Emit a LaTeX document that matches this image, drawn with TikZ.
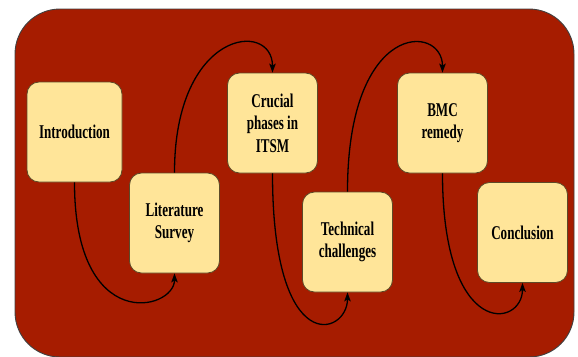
\documentclass[tikz,border=0pt]{standalone}
\usepackage{fontspec}
\newfontfamily\boxfont[FakeStretch=0.67]{Liberation Serif}
\usetikzlibrary{arrows.meta}
\definecolor{bgred}{HTML}{A61C00}
\definecolor{boxfill}{HTML}{FFE599}
\definecolor{boxline}{HTML}{5C4A28}

\begin{document}
\begin{tikzpicture}[x=1pt,y=-1pt,
  stepbox/.style={draw=boxline, line width=0.8pt, fill=boxfill,
    rounded corners=12pt, minimum width=90pt, minimum height=100pt,
    align=center, inner sep=2pt,
    font={\boxfont\bfseries\fontsize{19.5}{22.5}\selectfont}},
  flow/.style={draw=black, line width=1.3pt,
    -{Stealth[length=9pt,width=6.5pt,inset=2pt]}}]
\useasboundingbox (0,0) rectangle (578,356);
\clip (0,0) rectangle (578,356);

% panel
\draw[fill=bgred, draw=black!75, line width=0.9pt, rounded corners=45pt]
  (15,9) rectangle (574,357);

% steps
\node[stepbox, minimum width=95pt] (intro) at (74.5,132) {Introduction};
\node[stepbox] (lit)   at (174.5,223) {Literature\\Survey};
\node[stepbox] (crux)  at (272.5,123) {Crucial\\phases in\\ITSM};
\node[stepbox] (tech)  at (347.5,242) {Technical\\challenges};
\node[stepbox] (bmc)   at (442.5,123) {BMC\\remedy};
\node[stepbox] (concl) at (522.5,232.5) {Conclusion};

% connectors
\draw[flow] (intro.south) .. controls +(0,153) and +(0,37) .. (lit.south);
\draw[flow] (lit.north)   .. controls +(0,-143) and +(0,-53) .. (crux.north);
\draw[flow] (crux.south)  .. controls +(0,187) and +(0,43) .. (tech.south);
\draw[flow] (tech.north)  .. controls +(0,-172) and +(0,-49) .. (bmc.north);
\draw[flow] (bmc.south)   .. controls +(0,167) and +(0,45) .. (concl.south);
\end{tikzpicture}
\end{document}
